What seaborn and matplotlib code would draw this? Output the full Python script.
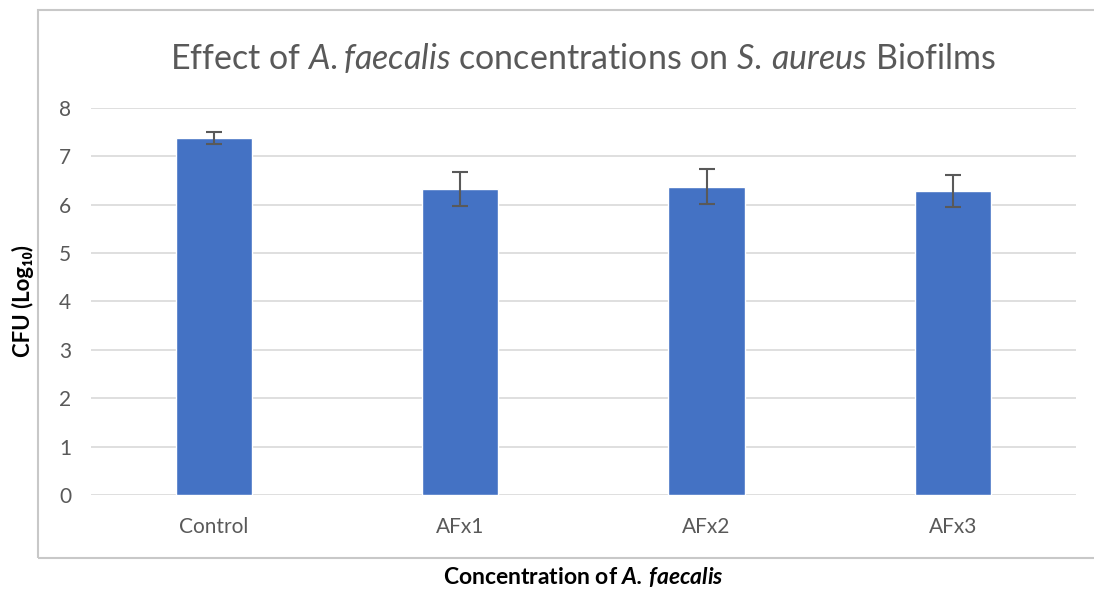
import matplotlib
matplotlib.use("Agg")
import matplotlib.pyplot as plt
import matplotlib.patches as mpatches
import pandas as pd
import seaborn as sns

groups = ["Control", "AFx1", "AFx2", "AFx3"]
cfu_log = [7.38, 6.33, 6.37, 6.28]
cfu_err = [0.12, 0.35, 0.36, 0.33]

df = pd.DataFrame({"group": groups, "cfu": cfu_log})

sns.set_style("white")
plt.rcParams["font.family"] = ["Lato", "DejaVu Sans"]
plt.rcParams["mathtext.fontset"] = "custom"
plt.rcParams["mathtext.rm"] = "Lato"
plt.rcParams["mathtext.it"] = "Lato:italic"
plt.rcParams["mathtext.bf"] = "Lato:bold"
plt.rcParams["mathtext.bfit"] = "Lato:italic:bold"

grey = "#595959"

fig = plt.figure(figsize=(10.94, 5.9), dpi=100)
ax = fig.add_axes([0.083, 0.161, 0.9005, 0.656])

sns.barplot(data=df, x="group", y="cfu", color="#4472C4", saturation=1,
            width=0.31, ax=ax, zorder=3)
ax.errorbar(range(len(groups)), cfu_log, yerr=cfu_err, fmt="none",
            ecolor=grey, elinewidth=1.5, capsize=6, capthick=1.5, zorder=4)

ax.set_xlim(-0.5, len(groups) - 0.5)
ax.set_ylim(0, 8)
ax.set_yticks(range(0, 9))
ax.yaxis.grid(True, color="#D9D9D9", linewidth=1.2, zorder=0)
ax.set_axisbelow(True)
for s in ax.spines.values():
    s.set_visible(False)
ax.tick_params(axis="both", length=0, labelsize=15, labelcolor=grey)
ax.tick_params(axis="x", pad=16)
ax.tick_params(axis="y", pad=14)

ax.set_xlabel(r"Concentration of $\mathbfit{A.\,faecalis}$", fontsize=16.5,
              fontweight="bold", color="black")
ax.xaxis.set_label_coords(0.5, -0.18)
ax.set_ylabel("CFU (Log₁₀)", fontsize=16, fontweight="bold", color="black",
              labelpad=18)
ax.set_title(r"Effect of $\mathit{A.faecalis}$ concentrations on $\mathit{S.\,aureus}$ Biofilms",
             fontsize=24.5, color=grey, pad=28)

fig.patches.append(mpatches.Rectangle((38 / 1094, 1 - 558 / 590), 1.1, (558 - 10) / 590,
                                      transform=fig.transFigure, fill=False,
                                      edgecolor="#C8C8C8", linewidth=1.5))

fig.savefig("out.png", dpi=100)
